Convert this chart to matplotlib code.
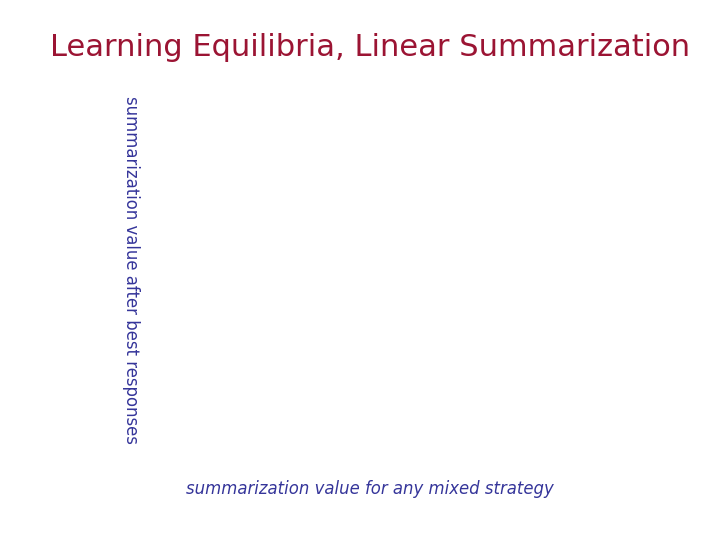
import matplotlib.pyplot as plt

# texts of the slide (no data series are drawn on it)
title_text = "Learning Equilibria, Linear Summarization"
xlabel_text = "summarization value for any mixed strategy"
ylabel_text = "summarization value after best responses"

title_color = "#9b1433"
label_color = "#35359a"

fig = plt.figure(figsize=(7.2, 5.4), dpi=100)
ax = fig.add_axes([0.2, 0.16, 0.75, 0.68])
for s in ax.spines.values():
    s.set_visible(False)
ax.set_xticks([])
ax.set_yticks([])

ax.set_xlabel(xlabel_text, fontsize=11.9, style='italic', color=label_color,
              va='center')
ax.xaxis.set_label_coords((370 - 144) / 540, (540 - 489 - 86.4) / 367.2)
ax.set_ylabel(ylabel_text, fontsize=11.9, rotation=270, color=label_color,
              va='center')
ax.yaxis.set_label_coords((131 - 144) / 540, (540 - 270 - 86.4) / 367.2)

fig.text(370 / 720, 1 - 48 / 540, title_text, fontsize=22, color=title_color,
         ha='center', va='center')

fig.savefig("out.png", dpi=100)
